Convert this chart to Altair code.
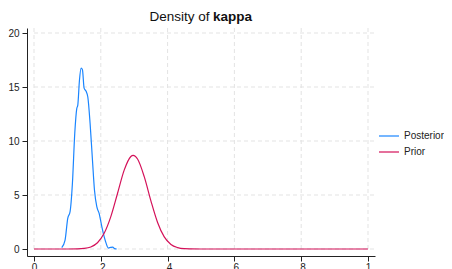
import altair as alt
import pandas as pd

# ---- data ----
title_parts = ["Density of", "kappa"]
series_names = ["Posterior", "Prior"]
series_colors = ["#1a85ff", "#d41159"]

post_x = [0.083, 0.093, 0.101, 0.108, 0.115, 0.122, 0.128, 0.131, 0.136, 0.141,
          0.145, 0.150, 0.156, 0.161, 0.168, 0.175, 0.181, 0.188, 0.195, 0.203,
          0.210, 0.216, 0.2225, 0.2295, 0.2355, 0.2415, 0.2475]
post_y = [0.12, 0.83, 2.84, 3.46, 6.08, 10.7, 13.0, 13.3, 15.6, 16.75,
          16.6, 14.9, 14.6, 14.1, 11.6, 8.24, 5.46, 3.92, 3.3, 2.07,
          1.14, 0.52, 0.09, 0.15, 0.18, 0.03, 0.0]

prior_x = [0.0, 0.10, 0.13, 0.15, 0.17, 0.19, 0.21, 0.23, 0.25, 0.27, 0.29, 0.297,
           0.31, 0.33, 0.35, 0.37, 0.39, 0.41, 0.43, 0.45, 0.47, 0.50, 0.70, 1.0]
prior_y = [0.0, 0.0, 0.01, 0.05, 0.19, 0.58, 1.45, 3.00, 5.14, 7.30, 8.57, 8.67,
           8.33, 6.70, 4.46, 2.46, 1.12, 0.42, 0.13, 0.03, 0.01, 0.0, 0.0, 0.0]

x_ticks = [0, 0.2, 0.4, 0.6, 0.8, 1.0]
x_tick_labels = ["0", ".2", ".4", ".6", ".8", "1"]
y_ticks = [0, 5, 10, 15, 20]

x_domain = [-0.021, 1.021]
y_domain = [-0.648, 20.463]

df = pd.concat([
    pd.DataFrame({"x": post_x, "y": post_y, "series": series_names[0]}),
    pd.DataFrame({"x": prior_x, "y": prior_y, "series": series_names[1]}),
])

xs = alt.Scale(domain=x_domain, nice=False, zero=False)
ys = alt.Scale(domain=y_domain, nice=False, zero=False)

x_label_expr = (str(x_tick_labels) + "[round(datum.value * 5)]")
x_axis = alt.Axis(values=x_ticks, labelExpr=x_label_expr, grid=False, title=None,
                  labelPadding=1)
y_axis = alt.Axis(values=y_ticks, grid=False, title=None)

grid_col = "#e3e3e3"
grid_dash = [4, 3]

hgrid = alt.Chart(pd.DataFrame({"y": y_ticks, "x0": 0.0, "x1": x_domain[1]})).mark_rule(
    color=grid_col, strokeDash=grid_dash, strokeWidth=1
).encode(
    y=alt.Y("y:Q", scale=ys, axis=y_axis),
    x=alt.X("x0:Q", scale=xs, axis=x_axis),
    x2="x1:Q",
)

vgrid = alt.Chart(pd.DataFrame({"x": x_ticks, "y0": 0.0, "y1": y_domain[1]})).mark_rule(
    color=grid_col, strokeDash=grid_dash, strokeWidth=1
).encode(
    x=alt.X("x:Q", scale=xs, axis=x_axis),
    y=alt.Y("y0:Q", scale=ys, axis=y_axis),
    y2="y1:Q",
)

lines = alt.Chart(df).mark_line(strokeWidth=1.2, interpolate="monotone").encode(
    x=alt.X("x:Q", scale=xs, axis=x_axis),
    y=alt.Y("y:Q", scale=ys, axis=y_axis),
    color=alt.Color("series:N",
                    scale=alt.Scale(domain=series_names, range=series_colors),
                    legend=alt.Legend(title=None, orient="none", legendX=351, legendY=97,
                                      symbolType="stroke", symbolSize=400,
                                      symbolStrokeWidth=1.2, labelFontSize=10,
                                      labelOffset=4, padding=0, rowPadding=-8,
                                      labelFont="Liberation Sans", labelColor="#222")),
    order="x:Q",
)

t1 = alt.Chart(pd.DataFrame({"t": [title_parts[0]]})).mark_text(
    align="right", baseline="alphabetic", fontSize=13.5, font="Liberation Sans", color="#111"
).encode(text="t:N", x=alt.value(182.5), y=alt.value(-7))

t2 = alt.Chart(pd.DataFrame({"t": [title_parts[1]]})).mark_text(
    align="left", baseline="alphabetic", fontSize=13.5, fontWeight="bold",
    font="Liberation Sans", color="#111"
).encode(text="t:N", x=alt.value(186), y=alt.value(-7))

chart = alt.layer(hgrid, vgrid, lines, t1, t2).properties(
    width=348, height=228,
    autosize=alt.AutoSizeParams(type="none"),
    padding={"left": 19, "top": 20, "right": 69, "bottom": 20},
).configure_view(stroke=None).configure_axis(
    domainColor="#222", tickColor="#222", tickSize=5, labelFontSize=10,
    labelFont="Liberation Sans", labelColor="#222", labelPadding=3,
    domainWidth=1, tickWidth=1,
)

chart.save("out.html", embed_options={"renderer": "svg", "actions": False})
